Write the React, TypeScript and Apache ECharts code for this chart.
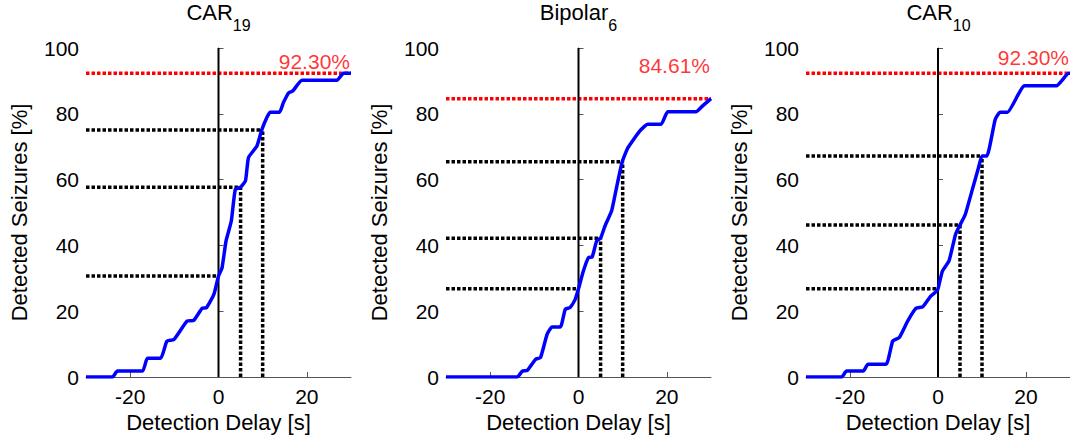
import React, { useEffect, useRef } from "react";
import * as echarts from "echarts";

const FONT = "'Liberation Sans', Arial, sans-serif";

const xTicks = [-20, 0, 20];
const panelTitles = [
  { main: "CAR", sub: "19" },
  { main: "Bipolar", sub: "6" },
  { main: "CAR", sub: "10" },
];

const car19Curve: number[][] = [
  [-30, 0], [-24, 0], [-22.9, 1.8], [-17.2, 1.8], [-16.1, 5.7], [-13.1, 5.7],
  [-11.7, 10.9], [-10.1, 11.4], [-7.1, 17], [-5.6, 17.2], [-3.7, 20.9], [-2.7, 21.1],
  [-1.05, 25.1], [0, 30.7], [0.8, 33.2], [1.7, 41.3], [2.9, 47.4], [3.8, 57],
  [5, 57.7], [6.1, 59.6], [6.8, 66.7], [8.7, 70.2], [9.8, 75.1], [11, 79],
  [11.7, 80.5], [13.8, 80.5], [14.7, 83.4], [15.9, 86.4], [16.8, 86.9], [18.9, 90.2],
  [26.8, 90.2], [28.3, 92.3], [30, 92.3],
];

const bipolar6Curve: number[][] = [
  [-30, 0], [-13.9, 0], [-12.7, 1.8], [-11.6, 2], [-9.7, 5.4], [-8.6, 5.9],
  [-7.1, 13], [-6, 15.2], [-4.1, 15.2], [-3, 20.6], [-1.9, 21.1], [-0.75, 23.6],
  [0, 26.8], [1.1, 32.2], [2.25, 36.3], [3.1, 36.5], [4.1, 41.3], [5, 42.2],
  [6, 45.9], [7.5, 50.5], [8.6, 57.5], [9.9, 65.4], [11.2, 69.7], [13.9, 74.8],
  [15.7, 76.8], [18.7, 76.8], [20.2, 80.6], [26.6, 80.6], [28.1, 82.4], [30, 84.6],
];

const car10Curve: number[][] = [
  [-30, 0], [-21.9, 0], [-20.8, 1.8], [-17, 1.8], [-15.9, 3.9], [-11.8, 3.9],
  [-10.3, 10.9], [-8.8, 12], [-6.9, 17], [-5, 20.9], [-3.5, 21.3], [-1.65, 24.6],
  [-0.3, 26.1], [0, 26.8], [1, 32.2], [2.5, 35.3], [4, 43.4], [5, 46.2],
  [6.2, 49.4], [7.7, 56.5], [9.2, 63.6], [10, 67.2], [11.1, 67.2], [13, 78.3],
  [14.1, 80.5], [15.8, 80.5], [19.7, 88.5], [26.9, 88.5], [29.7, 92.3], [30, 92.3],
];

const delayMarks = [0, 5, 10];
const car19AtDelays = [30.7, 57.7, 75.1];
const bipolar6AtDelays = [26.8, 42.2, 65.4];
const car10AtDelays = [26.8, 46.2, 67.2];
const maxDetected = [92.3, 84.61, 92.3];
const maxLabels = ["92.30%", "84.61%", "92.30%"];
const maxLabelY = [95.8, 94.6, 97.2];

const curves = [car19Curve, bipolar6Curve, car10Curve];
const atDelays = [car19AtDelays, bipolar6AtDelays, car10AtDelays];

const gridLefts = [86, 446, 806];
const gridWidth = 265;
const gridTop = 48;
const gridHeight = 329;

export default function App() {
  const ref = useRef<HTMLDivElement>(null);

  useEffect(() => {
    if (!ref.current) return;
    const chart = echarts.init(ref.current, undefined, { renderer: "svg" });

    const grids: any[] = [];
    const xAxes: any[] = [];
    const yAxes: any[] = [];
    const series: any[] = [];
    const graphics: any[] = [];
    const dash = { color: "#000", width: 3.5, type: [3.5, 2], cap: "butt" };

    for (let p = 0; p < 3; p++) {
      grids.push({
        left: gridLefts[p],
        top: gridTop,
        width: gridWidth,
        height: gridHeight,
        containLabel: false,
      });
      xAxes.push({
        type: "value",
        gridIndex: p,
        min: -30,
        max: 30,
        interval: 10,
        name: "Detection Delay [s]",
        nameLocation: "middle",
        nameGap: 32,
        nameTextStyle: { fontSize: 22, color: "#000", fontFamily: FONT, verticalAlign: "top" },
        axisLine: { show: true, lineStyle: { color: "#555", width: 1 } },
        axisTick: { show: true, inside: true, length: 5, customValues: xTicks, lineStyle: { color: "#555" } },
        axisLabel: { fontSize: 21, color: "#000", fontFamily: FONT, margin: 9, customValues: xTicks },
        splitLine: { show: false },
      });
      yAxes.push({
        type: "value",
        gridIndex: p,
        min: 0,
        max: 100,
        interval: 20,
        name: "Detected Seizures [%]",
        nameLocation: "middle",
        nameGap: 56,
        nameRotate: 90,
        nameTextStyle: { fontSize: 22, color: "#000", fontFamily: FONT },
        axisLine: { show: true, lineStyle: { color: "#555", width: 1 } },
        axisTick: { show: true, inside: true, length: 5, lineStyle: { color: "#555" } },
        axisLabel: { fontSize: 21, color: "#000", fontFamily: FONT, margin: 7 },
        splitLine: { show: false },
      });

      // red dashed max line
      series.push({
        type: "line",
        xAxisIndex: p,
        yAxisIndex: p,
        data: [[-30, maxDetected[p]], [30, maxDetected[p]]],
        symbol: "none",
        lineStyle: { ...dash, color: "#ff0000" },
        silent: true,
        z: 2,
      });

      // black dashed delay guides
      delayMarks.forEach((d, i) => {
        const v = atDelays[p][i];
        series.push({
          type: "line",
          xAxisIndex: p,
          yAxisIndex: p,
          data: [[-30, v], [d, v]],
          symbol: "none",
          lineStyle: dash,
          silent: true,
          z: 2,
        });
        if (d !== 0) {
          series.push({
            type: "line",
            xAxisIndex: p,
            yAxisIndex: p,
            data: [[d, 0], [d, v]],
            symbol: "none",
            lineStyle: dash,
            silent: true,
            z: 2,
          });
        }
      });

      // solid zero line
      series.push({
        type: "line",
        xAxisIndex: p,
        yAxisIndex: p,
        data: [[0, 0], [0, 100]],
        symbol: "none",
        lineStyle: { color: "#000", width: 2 },
        silent: true,
        z: 3,
      });

      // blue curve
      series.push({
        type: "line",
        xAxisIndex: p,
        yAxisIndex: p,
        data: curves[p],
        symbol: "none",
        smooth: 0.15,
        lineStyle: { color: "#0000ff", width: 3.5 },
        silent: true,
        z: 4,
      });

      // max label
      series.push({
        type: "scatter",
        xAxisIndex: p,
        yAxisIndex: p,
        data: [[30, maxLabelY[p]]],
        symbolSize: 0,
        label: {
          show: true,
          position: "left",
          distance: 1,
          formatter: maxLabels[p],
          color: "#ff0000",
          fontSize: 21,
          fontFamily: FONT,
        },
        silent: true,
        z: 5,
      });

      graphics.push({
        type: "text",
        x: gridLefts[p] + gridWidth / 2,
        y: 1,
        style: {
          text: `{m|${panelTitles[p].main}}{s|${panelTitles[p].sub}}`,
          align: "center",
          verticalAlign: "top",
          fill: "#000",
          fontFamily: FONT,
          rich: {
            m: { fontSize: 22, lineHeight: 32, verticalAlign: "top", fontFamily: FONT, fill: "#000" },
            s: { fontSize: 16, lineHeight: 32, verticalAlign: "bottom", fontFamily: FONT, fill: "#000" },
          },
        },
      });
    }

    chart.setOption({
      animation: false,
      backgroundColor: "#fff",
      grid: grids,
      xAxis: xAxes,
      yAxis: yAxes,
      series,
      graphic: graphics,
    });

    return () => chart.dispose();
  }, []);

  return (
    <div
      ref={ref}
      style={{ position: "fixed", left: 0, top: 0, width: 1070, height: 441, background: "#fff" }}
    />
  );
}
